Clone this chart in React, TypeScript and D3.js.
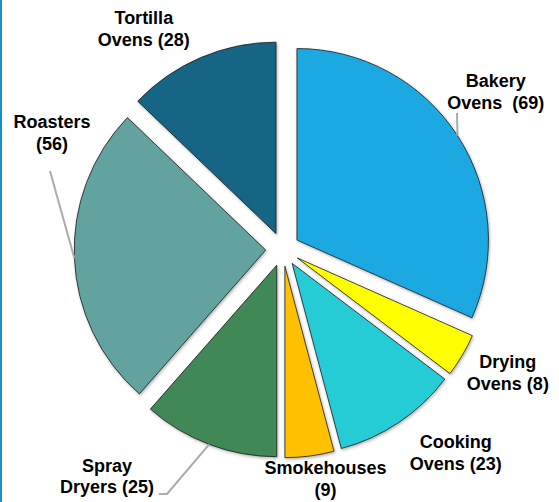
import { arc, pie } from 'd3'

const WIDTH = 559
const HEIGHT = 502
const CX = 282.7
const CY = 249.3
const RADIUS = 191.5
const EXPLODE = 17

// data, clockwise from 12 o'clock
const categories = ['Bakery Ovens', 'Drying Ovens', 'Cooking Ovens', 'Smokehouses', 'Spray Dryers', 'Roasters', 'Tortilla Ovens']
const values = [69, 8, 23, 9, 25, 56, 28]
const labelLines = [
  ['Bakery', 'Ovens  (69)'],
  ['Drying', 'Ovens (8)'],
  ['Cooking', 'Ovens (23)'],
  ['Smokehouses', '(9)'],
  ['Spray', 'Dryers (25)'],
  ['Roasters', '(56)'],
  ['Tortilla', 'Ovens (28)'],
]

const colors = ['#1FA9E1', '#FFFF00', '#28CCD5', '#FFC000', '#3F8854', '#62A39F', '#126585']

// label placement: polar angle (deg) and distance from pie centre
const labelAngle = [54.7, 120, 140.5, 169.7, 217, 295.5, 327]
const labelDist = [261, 260, 272, 240, 292, 255.6, 255]
// leader lines (end points next to the label), null where there is none
const leaderEnds: ([number, number][] | null)[] = [
  [[457, 113]],
  null,
  null,
  null,
  [[167, 494], [159, 494]],
  [[50, 171]],
  null,
]

type Datum = { name: string; value: number; index: number }

const rad = (deg: number) => (deg * Math.PI) / 180

export default function App() {
  const data: Datum[] = categories.map((name, index) => ({ name, value: values[index], index }))
  const slices = pie<Datum>()
    .sort(null)
    .value((d) => d.value)
    .startAngle(0)
    .endAngle(2 * Math.PI)(data)
  const arcGen = arc<any>().innerRadius(0).outerRadius(RADIUS)

  return (
    <div style={{ position: 'fixed', left: 0, top: 0 }}>
      <svg width={WIDTH} height={HEIGHT} style={{ display: 'block', background: '#fff' }}>
        <defs>
          <filter id="shadow" x="-20%" y="-20%" width="140%" height="140%">
            <feDropShadow dx="1" dy="1.5" stdDeviation="1.5" floodColor="#000" floodOpacity="0.3" />
          </filter>
        </defs>
        <line x1={1} x2={1} y1={0} y2={HEIGHT} stroke="#1B8EC4" strokeWidth={2} />
        {slices.map((s, i) => {
          const mid = (s.startAngle + s.endAngle) / 2
          const ox = CX + EXPLODE * Math.sin(mid)
          const oy = CY - EXPLODE * Math.cos(mid)
          return (
            <g key={s.data.name} transform={`translate(${ox},${oy})`}>
              <path d={arcGen(s) ?? ''} fill={colors[i]} stroke="#1a1a1a" strokeWidth={0.8} strokeLinejoin="miter" filter="url(#shadow)" />
            </g>
          )
        })}
        {slices.map((s, i) => {
          const ends = leaderEnds[i]
          if (!ends) return null
          const mid = (s.startAngle + s.endAngle) / 2
          const ox = CX + EXPLODE * Math.sin(mid) + RADIUS * Math.sin(mid)
          const oy = CY - EXPLODE * Math.cos(mid) - RADIUS * Math.cos(mid)
          const pts = [[ox, oy], ...ends]
          return (
            <polyline
              key={`leader-${i}`}
              points={pts.map((p) => p.join(',')).join(' ')}
              fill="none"
              stroke="#ABABAB"
              strokeWidth={2}
            />
          )
        })}
        {labelLines.map((lines, i) => {
          const a = rad(labelAngle[i])
          const x = CX + labelDist[i] * Math.sin(a)
          const y = CY - labelDist[i] * Math.cos(a)
          return (
            <text
              key={`label-${i}`}
              x={x}
              y={y - 11}
              textAnchor="middle"
              fontFamily="'Liberation Sans', Arial, sans-serif"
              fontWeight="bold"
              fontSize={18}
              fill="#000"
            >
              {lines.map((t, k) => (
                <tspan key={k} x={x} dy={k === 0 ? 0 : 21.5} style={{ whiteSpace: 'pre' }}>
                  {t}
                </tspan>
              ))}
            </text>
          )
        })}
      </svg>
    </div>
  )
}
